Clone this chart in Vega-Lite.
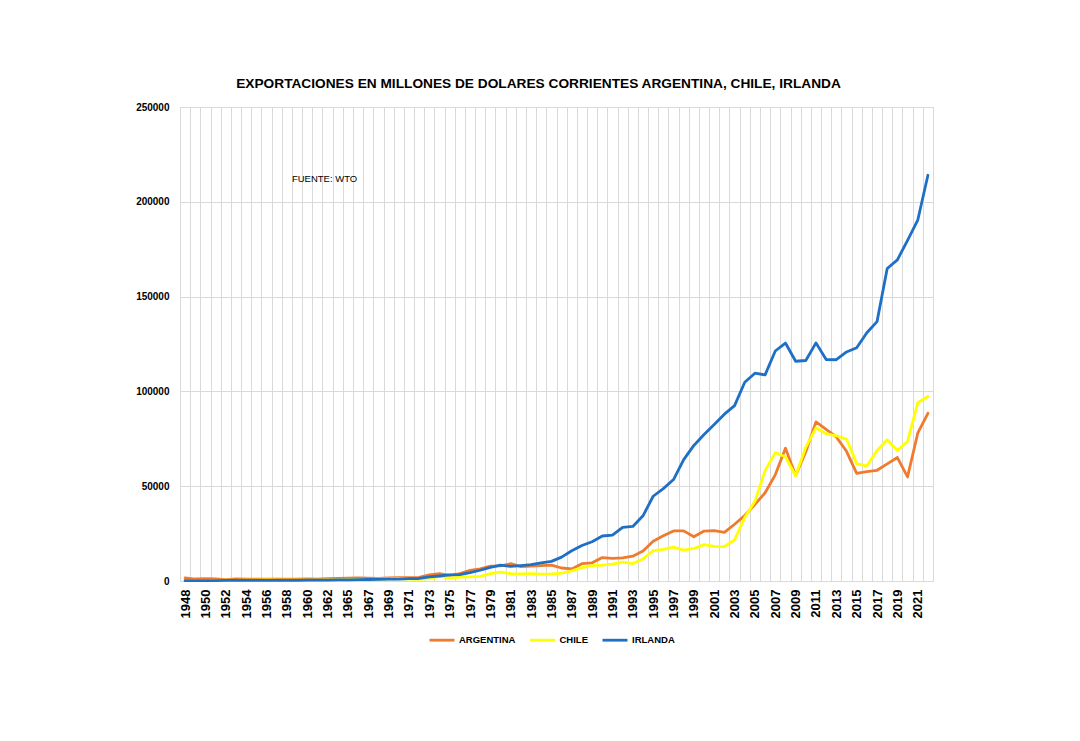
{
"$schema":"https://vega.github.io/schema/vega-lite/v6.json",
"width":753,"height":474,
"autosize":{"type":"none"},
"padding":{"left":180,"top":107,"right":147,"bottom":160},
"background":"white",
"title":{"text":"EXPORTACIONES EN MILLONES DE DOLARES CORRIENTES ARGENTINA, CHILE, IRLANDA","anchor":"middle","dx":-18,"offset":11,"fontSize":13.7,"font":"Liberation Sans, sans-serif","fontWeight":"bold","color":"#000000"},
"config":{"view":{"stroke":"#d9d9d9","strokeWidth":1},"font":"Liberation Sans, sans-serif"},
"data":{"values":[
{"year":"1948","country":"ARGENTINA","value":1626},{"year":"1949","country":"ARGENTINA","value":1043},{"year":"1950","country":"ARGENTINA","value":1178},{"year":"1951","country":"ARGENTINA","value":1169},{"year":"1952","country":"ARGENTINA","value":688},{"year":"1953","country":"ARGENTINA","value":1125},{"year":"1954","country":"ARGENTINA","value":1027},{"year":"1955","country":"ARGENTINA","value":929},{"year":"1956","country":"ARGENTINA","value":944},{"year":"1957","country":"ARGENTINA","value":975},{"year":"1958","country":"ARGENTINA","value":994},{"year":"1959","country":"ARGENTINA","value":1009},{"year":"1960","country":"ARGENTINA","value":1079},{"year":"1961","country":"ARGENTINA","value":964},{"year":"1962","country":"ARGENTINA","value":1216},{"year":"1963","country":"ARGENTINA","value":1365},{"year":"1965","country":"ARGENTINA","value":1493},{"year":"1966","country":"ARGENTINA","value":1593},{"year":"1967","country":"ARGENTINA","value":1464},{"year":"1968","country":"ARGENTINA","value":1368},{"year":"1969","country":"ARGENTINA","value":1612},{"year":"1970","country":"ARGENTINA","value":1773},{"year":"1971","country":"ARGENTINA","value":1740},{"year":"1972","country":"ARGENTINA","value":1941},{"year":"1973","country":"ARGENTINA","value":3266},{"year":"1974","country":"ARGENTINA","value":3931},{"year":"1975","country":"ARGENTINA","value":2961},{"year":"1976","country":"ARGENTINA","value":3916},{"year":"1977","country":"ARGENTINA","value":5652},{"year":"1978","country":"ARGENTINA","value":6400},{"year":"1979","country":"ARGENTINA","value":7810},{"year":"1980","country":"ARGENTINA","value":8021},{"year":"1981","country":"ARGENTINA","value":9143},{"year":"1982","country":"ARGENTINA","value":7625},{"year":"1983","country":"ARGENTINA","value":7836},{"year":"1984","country":"ARGENTINA","value":8107},{"year":"1985","country":"ARGENTINA","value":8396},{"year":"1986","country":"ARGENTINA","value":6852},{"year":"1987","country":"ARGENTINA","value":6360},{"year":"1988","country":"ARGENTINA","value":9135},{"year":"1989","country":"ARGENTINA","value":9579},{"year":"1990","country":"ARGENTINA","value":12353},{"year":"1991","country":"ARGENTINA","value":11978},{"year":"1992","country":"ARGENTINA","value":12235},{"year":"1993","country":"ARGENTINA","value":13118},{"year":"1994","country":"ARGENTINA","value":15839},{"year":"1995","country":"ARGENTINA","value":20963},{"year":"1996","country":"ARGENTINA","value":23811},{"year":"1997","country":"ARGENTINA","value":26431},{"year":"1998","country":"ARGENTINA","value":26434},{"year":"1999","country":"ARGENTINA","value":23309},{"year":"2000","country":"ARGENTINA","value":26341},{"year":"2001","country":"ARGENTINA","value":26543},{"year":"2002","country":"ARGENTINA","value":25651},{"year":"2003","country":"ARGENTINA","value":29939},{"year":"2004","country":"ARGENTINA","value":34576},{"year":"2005","country":"ARGENTINA","value":40387},{"year":"2006","country":"ARGENTINA","value":46546},{"year":"2007","country":"ARGENTINA","value":55980},{"year":"2008","country":"ARGENTINA","value":70019},{"year":"2009","country":"ARGENTINA","value":55672},{"year":"2010","country":"ARGENTINA","value":68187},{"year":"2011","country":"ARGENTINA","value":83950},{"year":"2012","country":"ARGENTINA","value":79982},{"year":"2013","country":"ARGENTINA","value":75963},{"year":"2014","country":"ARGENTINA","value":68407},{"year":"2015","country":"ARGENTINA","value":56788},{"year":"2016","country":"ARGENTINA","value":57733},{"year":"2017","country":"ARGENTINA","value":58384},{"year":"2018","country":"ARGENTINA","value":61782},{"year":"2019","country":"ARGENTINA","value":65115},{"year":"2020","country":"ARGENTINA","value":54884},{"year":"2021","country":"ARGENTINA","value":77934},{"year":"2022","country":"ARGENTINA","value":88446},
{"year":"1948","country":"CHILE","value":330},{"year":"1949","country":"CHILE","value":290},{"year":"1950","country":"CHILE","value":281},{"year":"1951","country":"CHILE","value":370},{"year":"1952","country":"CHILE","value":460},{"year":"1953","country":"CHILE","value":330},{"year":"1954","country":"CHILE","value":400},{"year":"1955","country":"CHILE","value":470},{"year":"1956","country":"CHILE","value":530},{"year":"1957","country":"CHILE","value":450},{"year":"1958","country":"CHILE","value":390},{"year":"1959","country":"CHILE","value":490},{"year":"1960","country":"CHILE","value":490},{"year":"1961","country":"CHILE","value":510},{"year":"1962","country":"CHILE","value":530},{"year":"1963","country":"CHILE","value":540},{"year":"1965","country":"CHILE","value":688},{"year":"1966","country":"CHILE","value":877},{"year":"1967","country":"CHILE","value":910},{"year":"1968","country":"CHILE","value":935},{"year":"1969","country":"CHILE","value":1070},{"year":"1970","country":"CHILE","value":1250},{"year":"1971","country":"CHILE","value":999},{"year":"1972","country":"CHILE","value":850},{"year":"1973","country":"CHILE","value":1310},{"year":"1974","country":"CHILE","value":2481},{"year":"1975","country":"CHILE","value":1552},{"year":"1976","country":"CHILE","value":2083},{"year":"1977","country":"CHILE","value":2190},{"year":"1978","country":"CHILE","value":2478},{"year":"1979","country":"CHILE","value":3894},{"year":"1980","country":"CHILE","value":4705},{"year":"1981","country":"CHILE","value":3836},{"year":"1982","country":"CHILE","value":3706},{"year":"1983","country":"CHILE","value":3831},{"year":"1984","country":"CHILE","value":3651},{"year":"1985","country":"CHILE","value":3804},{"year":"1986","country":"CHILE","value":4191},{"year":"1987","country":"CHILE","value":5303},{"year":"1988","country":"CHILE","value":7048},{"year":"1989","country":"CHILE","value":8080},{"year":"1990","country":"CHILE","value":8373},{"year":"1991","country":"CHILE","value":8942},{"year":"1992","country":"CHILE","value":10007},{"year":"1993","country":"CHILE","value":9199},{"year":"1994","country":"CHILE","value":11604},{"year":"1995","country":"CHILE","value":16024},{"year":"1996","country":"CHILE","value":16627},{"year":"1997","country":"CHILE","value":17870},{"year":"1998","country":"CHILE","value":16323},{"year":"1999","country":"CHILE","value":17162},{"year":"2000","country":"CHILE","value":19210},{"year":"2001","country":"CHILE","value":18272},{"year":"2002","country":"CHILE","value":18180},{"year":"2003","country":"CHILE","value":21664},{"year":"2004","country":"CHILE","value":33500},{"year":"2005","country":"CHILE","value":42000},{"year":"2006","country":"CHILE","value":58200},{"year":"2007","country":"CHILE","value":67700},{"year":"2008","country":"CHILE","value":65500},{"year":"2009","country":"CHILE","value":55500},{"year":"2010","country":"CHILE","value":70500},{"year":"2011","country":"CHILE","value":80800},{"year":"2012","country":"CHILE","value":77700},{"year":"2013","country":"CHILE","value":76600},{"year":"2014","country":"CHILE","value":74900},{"year":"2015","country":"CHILE","value":61900},{"year":"2016","country":"CHILE","value":60600},{"year":"2017","country":"CHILE","value":68800},{"year":"2018","country":"CHILE","value":74500},{"year":"2019","country":"CHILE","value":68900},{"year":"2020","country":"CHILE","value":73600},{"year":"2021","country":"CHILE","value":94000},{"year":"2022","country":"CHILE","value":97300},
{"year":"1948","country":"IRLANDA","value":190},{"year":"1949","country":"IRLANDA","value":220},{"year":"1950","country":"IRLANDA","value":230},{"year":"1951","country":"IRLANDA","value":250},{"year":"1952","country":"IRLANDA","value":290},{"year":"1953","country":"IRLANDA","value":320},{"year":"1954","country":"IRLANDA","value":320},{"year":"1955","country":"IRLANDA","value":310},{"year":"1956","country":"IRLANDA","value":300},{"year":"1957","country":"IRLANDA","value":370},{"year":"1958","country":"IRLANDA","value":370},{"year":"1959","country":"IRLANDA","value":360},{"year":"1960","country":"IRLANDA","value":430},{"year":"1961","country":"IRLANDA","value":510},{"year":"1962","country":"IRLANDA","value":490},{"year":"1963","country":"IRLANDA","value":550},{"year":"1965","country":"IRLANDA","value":620},{"year":"1966","country":"IRLANDA","value":680},{"year":"1967","country":"IRLANDA","value":790},{"year":"1968","country":"IRLANDA","value":890},{"year":"1969","country":"IRLANDA","value":1010},{"year":"1970","country":"IRLANDA","value":1040},{"year":"1971","country":"IRLANDA","value":1200},{"year":"1972","country":"IRLANDA","value":1330},{"year":"1973","country":"IRLANDA","value":2150},{"year":"1974","country":"IRLANDA","value":2640},{"year":"1975","country":"IRLANDA","value":3180},{"year":"1976","country":"IRLANDA","value":3310},{"year":"1977","country":"IRLANDA","value":4390},{"year":"1978","country":"IRLANDA","value":5670},{"year":"1979","country":"IRLANDA","value":7170},{"year":"1980","country":"IRLANDA","value":8400},{"year":"1981","country":"IRLANDA","value":7700},{"year":"1982","country":"IRLANDA","value":8100},{"year":"1983","country":"IRLANDA","value":8600},{"year":"1984","country":"IRLANDA","value":9600},{"year":"1985","country":"IRLANDA","value":10360},{"year":"1986","country":"IRLANDA","value":12600},{"year":"1987","country":"IRLANDA","value":15970},{"year":"1988","country":"IRLANDA","value":18700},{"year":"1989","country":"IRLANDA","value":20700},{"year":"1990","country":"IRLANDA","value":23740},{"year":"1991","country":"IRLANDA","value":24230},{"year":"1992","country":"IRLANDA","value":28330},{"year":"1993","country":"IRLANDA","value":28760},{"year":"1994","country":"IRLANDA","value":34370},{"year":"1995","country":"IRLANDA","value":44700},{"year":"1996","country":"IRLANDA","value":48700},{"year":"1997","country":"IRLANDA","value":53500},{"year":"1998","country":"IRLANDA","value":64000},{"year":"1999","country":"IRLANDA","value":71500},{"year":"2000","country":"IRLANDA","value":77300},{"year":"2001","country":"IRLANDA","value":82600},{"year":"2002","country":"IRLANDA","value":88000},{"year":"2003","country":"IRLANDA","value":92500},{"year":"2004","country":"IRLANDA","value":104800},{"year":"2005","country":"IRLANDA","value":109600},{"year":"2006","country":"IRLANDA","value":108700},{"year":"2007","country":"IRLANDA","value":121300},{"year":"2008","country":"IRLANDA","value":125500},{"year":"2009","country":"IRLANDA","value":115900},{"year":"2010","country":"IRLANDA","value":116300},{"year":"2011","country":"IRLANDA","value":125600},{"year":"2012","country":"IRLANDA","value":116800},{"year":"2013","country":"IRLANDA","value":116700},{"year":"2014","country":"IRLANDA","value":120800},{"year":"2015","country":"IRLANDA","value":123000},{"year":"2016","country":"IRLANDA","value":130900},{"year":"2017","country":"IRLANDA","value":136800},{"year":"2018","country":"IRLANDA","value":164800},{"year":"2019","country":"IRLANDA","value":169400},{"year":"2020","country":"IRLANDA","value":179700},{"year":"2021","country":"IRLANDA","value":190300},{"year":"2022","country":"IRLANDA","value":214000}
]},
"layer":[
{"mark":{"type":"line","strokeWidth":2.8,"strokeJoin":"round","strokeCap":"round"},
 "encoding":{
  "x":{"field":"year","type":"ordinal","bandPosition":0.5,"scale":{"type":"band","paddingInner":0,"paddingOuter":0},
   "axis":{"title":null,"tickBand":"extent","grid":true,"gridColor":"#d9d9d9","gridWidth":1,"ticks":false,"domainColor":"#d9d9d9","labelAngle":-90,"labelFont":"Liberation Sans, sans-serif","labelFontWeight":"bold","labelFontSize":13,"labelColor":"#000000","labelPadding":8,"labelOverlap":false,"labelExpr":"((toNumber(datum.value) <= 1963 && toNumber(datum.value) % 2 == 0) || (toNumber(datum.value) >= 1965 && toNumber(datum.value) % 2 == 1)) ? datum.value : ''"}},
  "y":{"field":"value","type":"quantitative","scale":{"domain":[0,250000],"nice":false},
   "axis":{"title":null,"values":[0,50000,100000,150000,200000,250000],"format":"d","domain":false,"ticks":false,"gridColor":"#d9d9d9","labelFont":"Liberation Sans, sans-serif","labelFontWeight":"bold","labelFontSize":10,"labelPadding":11,"labelColor":"#000000"}},
  "color":{"field":"country","type":"nominal","scale":{"domain":["ARGENTINA","CHILE","IRLANDA"],"range":["#EF7B2E","#FFFF00","#1E6FC6"]},
   "legend":{"orient":"none","legendX":248,"legendY":519,"direction":"horizontal","title":null,"symbolType":"stroke","symbolSize":625,"symbolStrokeWidth":2.8,"labelFont":"Liberation Sans, sans-serif","labelFontWeight":"bold","labelFontSize":9.5,"labelColor":"#000000","columnPadding":7.5,"labelOffset":3}}
 }},
{"data":{"values":[{"note":"FUENTE: WTO"}]},
 "mark":{"type":"text","align":"left","baseline":"middle","font":"Liberation Sans, sans-serif","fontSize":9.5,"color":"#000000"},
 "encoding":{"x":{"datum":"1959","type":"ordinal","bandPosition":0},"y":{"datum":212000,"type":"quantitative"},"text":{"field":"note","type":"nominal"}}}
]
}
